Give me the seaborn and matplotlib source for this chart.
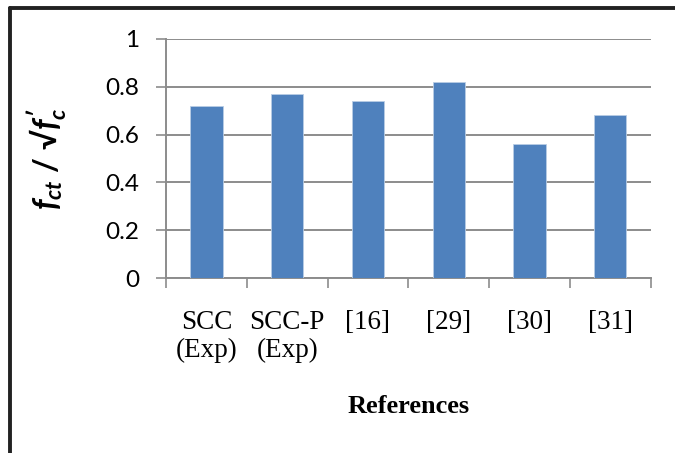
import numpy as np
import pandas as pd
import matplotlib
matplotlib.use("Agg")
import matplotlib.pyplot as plt
from matplotlib.lines import Line2D
import seaborn as sns

categories = ["SCC\n(Exp)", "SCC-P\n(Exp)", "[16]", "[29]", "[30]", "[31]"]
values = [0.72, 0.77, 0.74, 0.82, 0.56, 0.68]
yticks = [0, 0.2, 0.4, 0.6, 0.8, 1]
ytick_labels = ["0", "0.2", "0.4", "0.6", "0.8", "1"]

sns.set_theme(style="white")
plt.rcParams["font.family"] = ["Lato", "DejaVu Sans"]
plt.rcParams["text.color"] = "black"
plt.rcParams["axes.labelcolor"] = "black"
plt.rcParams["xtick.color"] = "black"
plt.rcParams["ytick.color"] = "black"
plt.rcParams["mathtext.fontset"] = "custom"
plt.rcParams["mathtext.it"] = "Lato:italic:bold"
plt.rcParams["mathtext.rm"] = "Lato:bold"
plt.rcParams["mathtext.bf"] = "Lato:bold"

df = pd.DataFrame({"cat": categories, "val": values})

fig = plt.figure(figsize=(6.75, 4.53), dpi=100)
ax = fig.add_axes([0.246, 0.386, 0.718, 0.528])

sns.barplot(data=df, x="cat", y="val", color="#4F81BD", saturation=1,
            width=0.4, edgecolor="#B9CDE5", linewidth=0.6, ax=ax, zorder=3)

grid_c = "#8C8C8C"
ax.set_ylim(0, 1)
ax.set_xlim(-0.5, 5.5)
ax.set_yticks(yticks)
ax.set_yticklabels(ytick_labels, fontsize=17.5, color="black")
ax.yaxis.grid(True, color=grid_c, linewidth=1.4, zorder=0)
ax.set_axisbelow(True)

ax.set_xticks(np.arange(-0.5, 6, 1))
ax.set_xticklabels([""] * 7)
ax.set_xticks(range(len(categories)), minor=True)
ax.set_xticklabels(categories, minor=True, fontsize=19.5, color="black",
                   family="Liberation Serif", linespacing=1.12)
ax.tick_params(axis="x", which="major", length=7, width=1.2, color=grid_c,
               direction="out", bottom=True)
ax.tick_params(axis="x", which="minor", length=0, pad=23)
ax.tick_params(axis="y", length=7, width=1.2, color=grid_c, direction="out",
               left=True, pad=12.5)

for s in ["top", "right"]:
    ax.spines[s].set_visible(False)
for s in ["left", "bottom"]:
    ax.spines[s].set_color(grid_c)
    ax.spines[s].set_linewidth(1.4)

ax.set_xlabel("References", fontsize=19, family="Liberation Serif",
              fontweight="bold", color="black")
ax.set_ylabel("$f_{ct}$ / √$f_{c}^{\\prime}$", fontsize=23, fontweight="bold",
              family=["Lato", "DejaVu Sans"], color="black")
ax.yaxis.set_label_coords(-0.2, 0.5)
ax.xaxis.set_label_coords(0.5, -0.49)

fig.add_artist(Line2D([9.5 / 675, 1.0], [1 - 8 / 453, 1 - 8 / 453],
                      transform=fig.transFigure, color="#222222", linewidth=2.8))
fig.add_artist(Line2D([9.5 / 675, 9.5 / 675], [0, 1 - 8 / 453],
                      transform=fig.transFigure, color="#222222", linewidth=2.8))

fig.savefig("out.png", dpi=100)
